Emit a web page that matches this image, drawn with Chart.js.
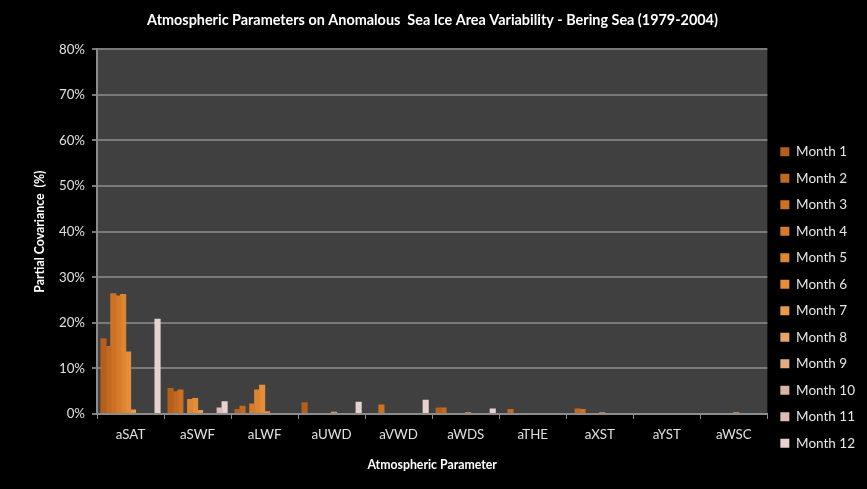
<!DOCTYPE html>
<html>
<head>
<meta charset="utf-8">
<script src="https://cdn.jsdelivr.net/npm/chart.js@4/dist/chart.umd.min.js"></script>
<style>
html,body{margin:0;padding:0;background:#000;}
#wrap{width:867px;height:489px;}
</style>
</head>
<body>
<div id="wrap"><canvas id="c" width="867" height="489"></canvas></div>
<script>
const categories = ["aSAT","aSWF","aLWF","aUWD","aVWD","aWDS","aTHE","aXST","aYST","aWSC"];
const seriesNames = ["Month 1","Month 2","Month 3","Month 4","Month 5","Month 6","Month 7","Month 8","Month 9","Month 10","Month 11","Month 12"];
const yTicks = [0,10,20,30,40,50,60,70,80];

const month1  = [16.6, 5.7, 1.1, 2.6, 0,   1.4, 0,   0,   0, 0];
const month2  = [14.9, 5.0, 1.8, 0,   0,   1.4, 1.1, 1.2, 0, 0];
const month3  = [26.5, 5.4, 0,   0,   2.1, 0,   0,   1.1, 0, 0];
const month4  = [26.0, 0,   2.3, 0,   0,   0,   0,   0,   0, 0];
const month5  = [26.3, 3.3, 5.4, 0,   0,   0,   0,   0,   0, 0];
const month6  = [13.7, 3.5, 6.4, 0,   0,   0,   0,   0,   0, 0];
const month7  = [1.0,  0.9, 0.6, 0.5, 0,   0.4, 0,   0.4, 0, 0.4];
const month8  = [0, 0, 0, 0, 0, 0, 0, 0, 0, 0];
const month9  = [0, 0, 0, 0, 0, 0, 0, 0, 0, 0];
const month10 = [0, 0, 0, 0, 0, 0, 0, 0, 0, 0];
const month11 = [0,    1.4, 0,   0,   0,   0,   0,   0,   0, 0];
const month12 = [20.9, 2.8, 0,   2.7, 3.1, 1.2, 0,   0,   0, 0];

const seriesValues = [month1,month2,month3,month4,month5,month6,month7,month8,month9,month10,month11,month12];
const seriesColors = ["#b65e1b","#c2681f","#cd7225","#d67b2a","#de8530","#e48e39","#e9994b","#e9a466","#e2ad85","#dbb4a1","#dbbcb5","#e6d2cf"];

const bgPlugin = {
  id:'bg',
  beforeDraw(chart){
    const {ctx, chartArea:a} = chart;
    ctx.save();
    ctx.fillStyle = '#000';
    ctx.fillRect(0,0,chart.width,chart.height);
    ctx.fillStyle = '#404040';
    ctx.fillRect(a.left, a.top, a.right-a.left, a.bottom-a.top);
    ctx.restore();
  }
};

const FONT = 'Lato, "Open Sans", sans-serif';

new Chart(document.getElementById('c'), {
  type:'bar',
  data:{
    labels: categories,
    datasets: seriesNames.map((n,i)=>({
      label:n,
      data: seriesValues[i],
      backgroundColor: seriesColors[i],
      borderWidth:0,
      barPercentage:1.25,
      categoryPercentage:0.88
    }))
  },
  options:{
    responsive:false,
    devicePixelRatio:1,
    animation:false,
    layout:{padding:{left:0,right:2,top:0,bottom:0}},
    plugins:{
      tooltip:{enabled:false},
      title:{
        display:true,
        text:'Atmospheric Parameters on Anomalous  Sea Ice Area Variability - Bering Sea (1979-2004)',
        color:'#ffffff',
        font:{family:FONT,size:14.4,weight:'bold'},
        padding:{top:11.5,bottom:20.5}
      },
      legend:{
        position:'right',
        align:'start',
        title:{display:true,text:'',font:{size:10,lineHeight:1},padding:{top:122,bottom:0}},
        labels:{
          color:'#e6e6e6',
          font:{family:FONT,size:13.5},
          boxWidth:9,
          boxHeight:9,
          padding:13
        }
      }
    },
    scales:{
      x:{
        offset:true,
        grid:{display:true,drawOnChartArea:false,drawTicks:true,tickLength:5,color:'#8c8c8c',lineWidth:1},
        border:{display:true,color:'#8c8c8c',width:2},
        ticks:{color:'#e0e0e0',font:{family:FONT,size:13.3},padding:8,maxRotation:0},
        title:{display:true,text:'Atmospheric Parameter',color:'#ffffff',font:{family:FONT,size:12.3,weight:'bold'},padding:{top:4,bottom:16.5}},
        afterFit(s){ s.height = 75; }
      },
      y:{
        min:0,max:80,
        afterBuildTicks(s){ s.ticks = yTicks.map(v=>({value:v})); },
        grid:{color:'#7a7a7a',lineWidth:2,tickLength:5,drawTicks:true},
        border:{display:true,color:'#8c8c8c',width:2},
        ticks:{color:'#e0e0e0',font:{family:FONT,size:13.3},padding:7,callback:v=>v+'%'},
        title:{display:true,text:'Partial Covariance  (%)',color:'#ffffff',font:{family:FONT,size:12.3,weight:'bold'},padding:{top:33,bottom:0}},
        afterFit(s){ s.width = 97; }
      }
    }
  },
  plugins:[bgPlugin]
});
</script>
</body>
</html>
